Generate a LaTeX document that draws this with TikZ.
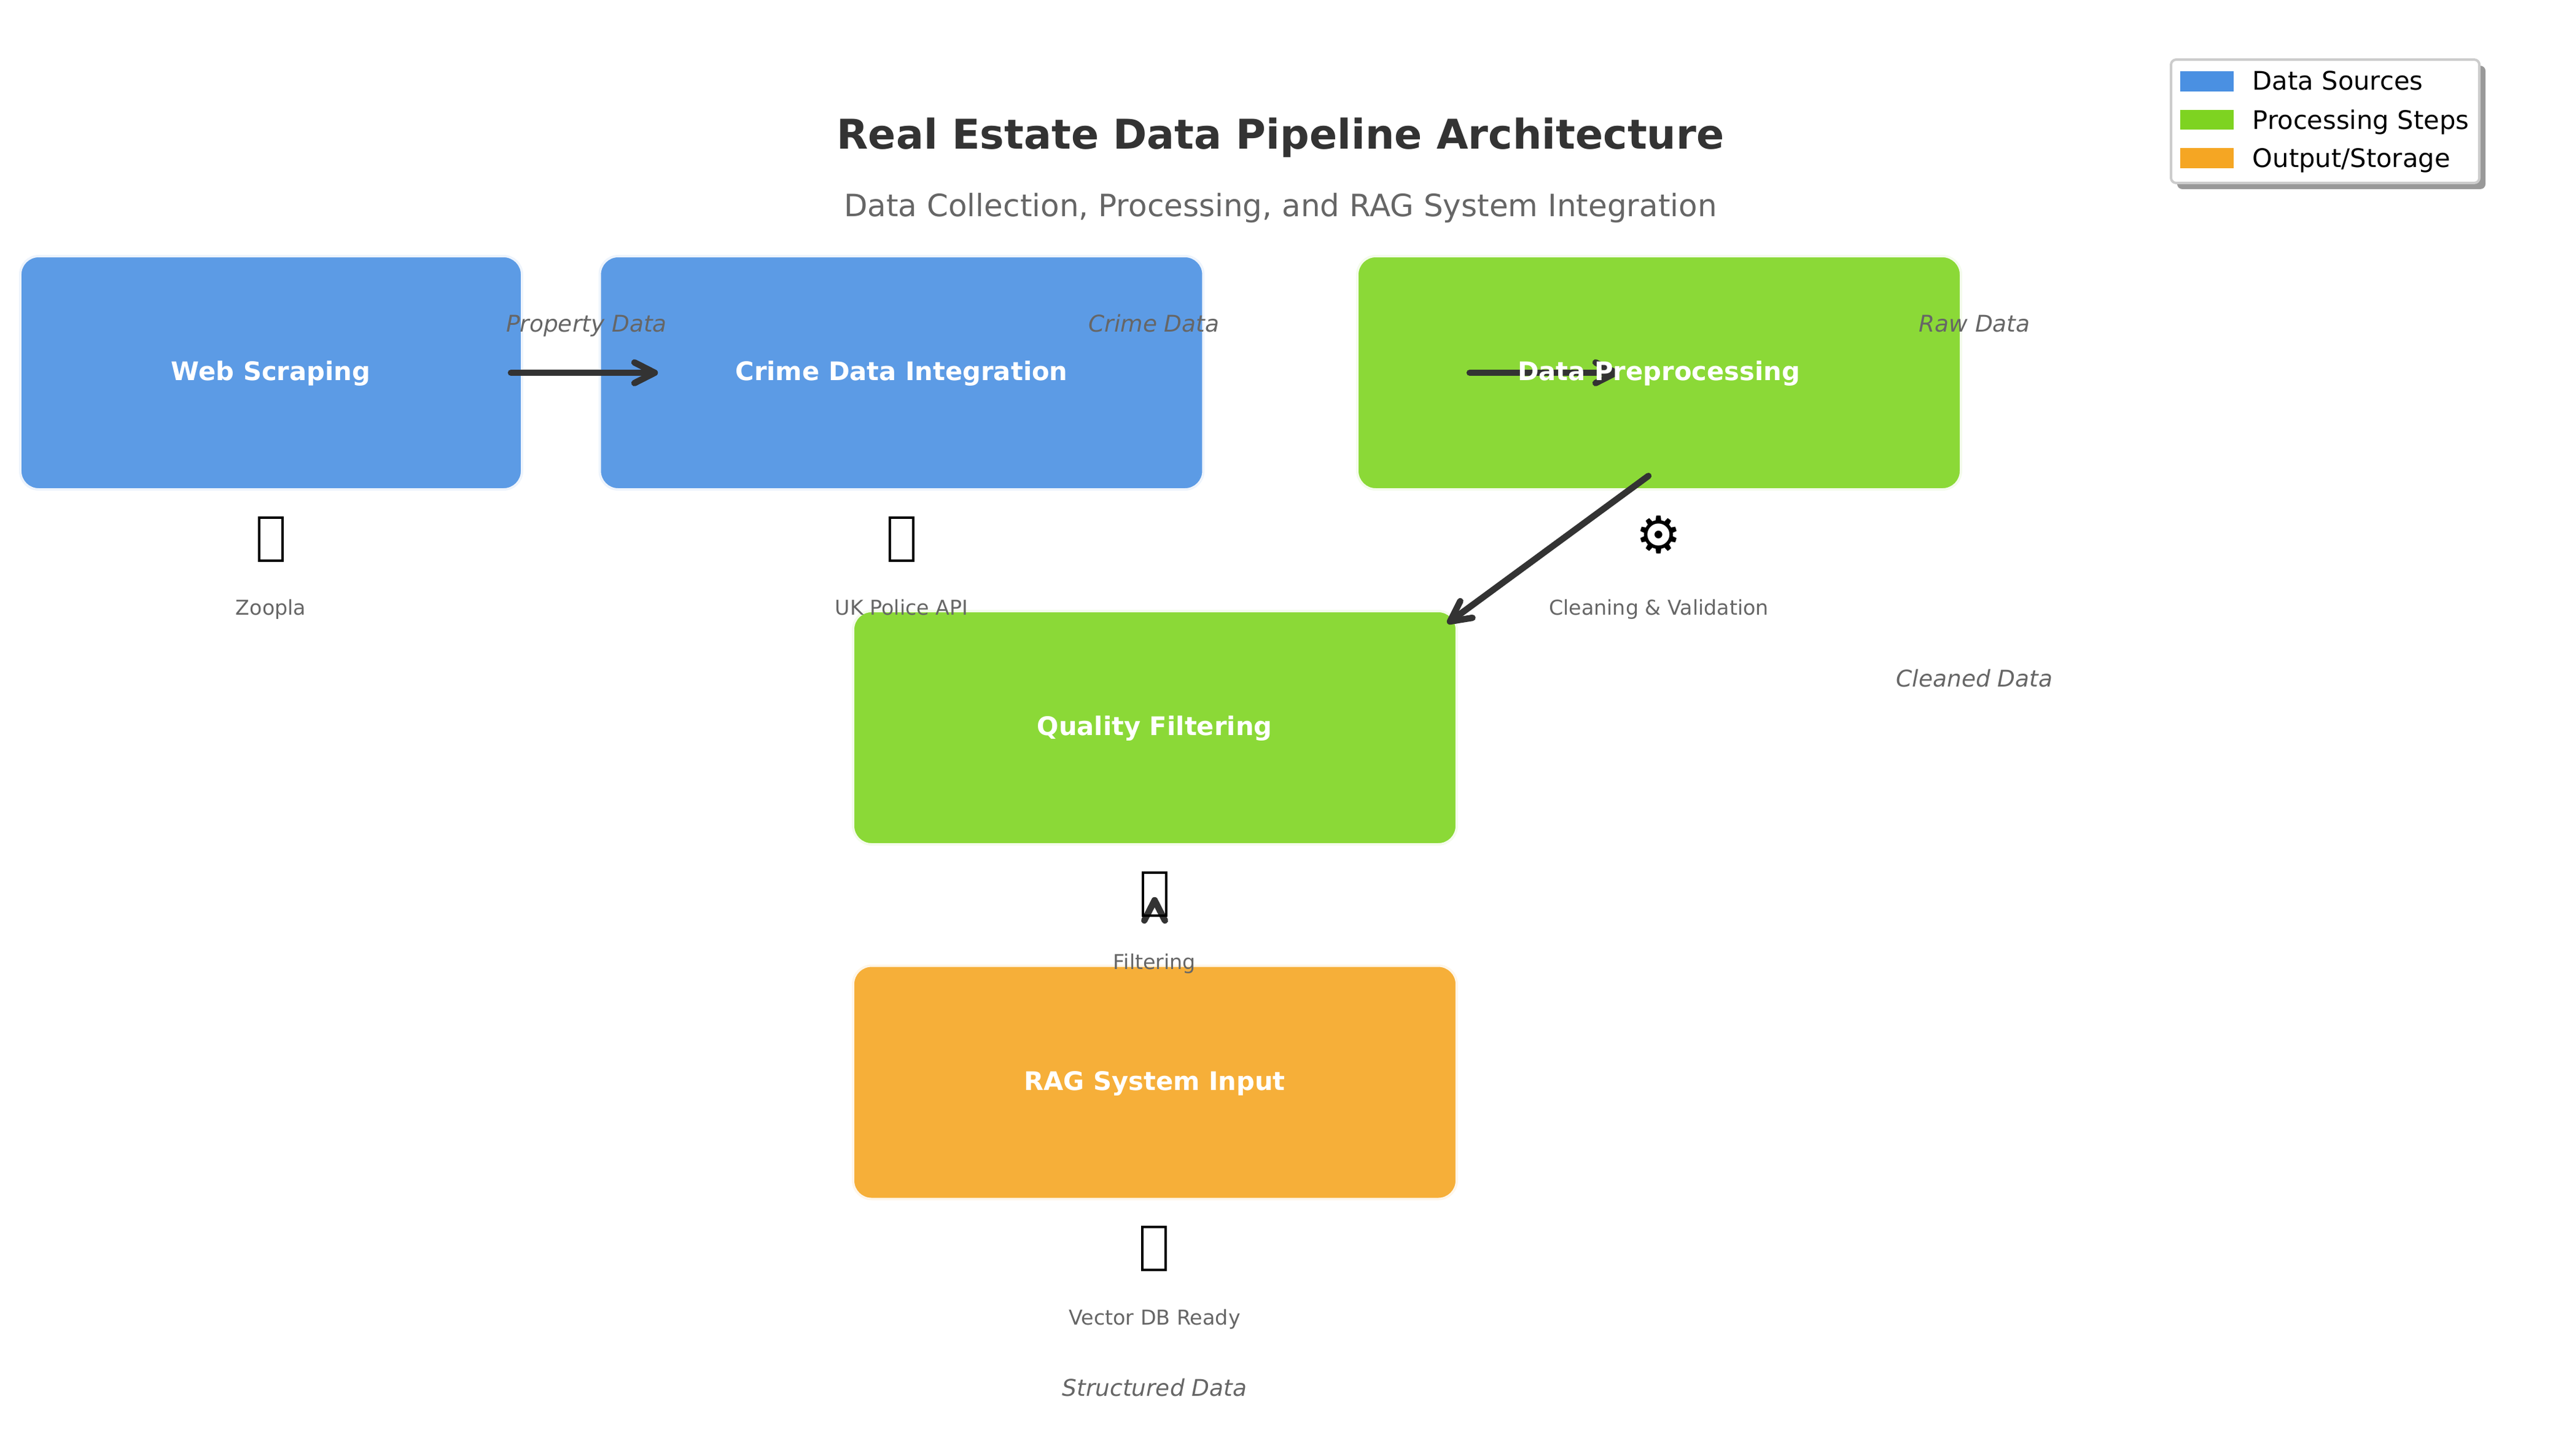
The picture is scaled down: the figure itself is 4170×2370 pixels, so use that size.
\documentclass[tikz,border=0pt]{standalone}
\usepackage{fontspec}
\setmainfont{DejaVu Sans}
\usetikzlibrary{calc,shadows}
\definecolor{bluefill}{HTML}{5C9BE5}
\definecolor{greenfill}{HTML}{8BD937}
\definecolor{orangefill}{HTML}{F6AF39}
\definecolor{bluerim}{HTML}{EEF4FC}
\definecolor{greenrim}{HTML}{F4FBEC}
\definecolor{orangerim}{HTML}{FEF6EA}
\definecolor{bluekey}{HTML}{4A90E2}
\definecolor{greenkey}{HTML}{7ED321}
\definecolor{orangekey}{HTML}{F5A623}
\definecolor{inkdark}{HTML}{333333}
\definecolor{inkgrey}{HTML}{666666}
\tikzset{
  x=0.24pt,y=-0.24pt,
  stage/.style={minimum height=91.2pt,minimum width=235.9pt,rounded corners=7.2pt,inner sep=0pt,line width=0.96pt},
  bluestage/.style={stage,fill=bluefill,draw=bluerim},
  greenstage/.style={stage,fill=greenfill,draw=greenrim},
  orangestage/.style={stage,fill=orangefill,draw=orangerim},
  stagetext/.style={anchor=base,text=white,font=\fontsize{10}{12}\bfseries,inner sep=0pt},
  flow/.style={draw=inkdark,line width=2.5pt,line cap=round,line join=round},
  tofu/.style={draw=black,line width=0.96pt,minimum width=9.1pt,minimum height=16.6pt,inner sep=0pt},
  captiontext/.style={anchor=base,font=\fontsize{8}{10}\selectfont,text=inkgrey,inner sep=0pt},
  flowlabel/.style={anchor=base,font=\fontsize{9}{11}\itshape,text=inkgrey,inner sep=0pt},
  keyswatch/.style={minimum width=20.9pt,minimum height=7.9pt,inner sep=0pt},
  keytext/.style={font=\fontsize{10}{12}\selectfont,anchor=base west,inner sep=0pt,text=black}
}
\newcommand\flowconn[2]{%
  \draw[flow] (#1) -- (#2);
  \draw[flow] ($(#2)!8.88pt!27:(#1)$) -- (#2) -- ($(#2)!8.88pt!-27:(#1)$);
}
\begin{document}
\begin{tikzpicture}
\useasboundingbox (0,0) rectangle (4170,2370);
\node[anchor=base,font=\fontsize{16}{20}\bfseries,text=inkdark,inner sep=0pt] (title) at (2085,242) {Real Estate Data Pipeline Architecture};
\node[anchor=base,font=\fontsize{12}{15}\selectfont,text=inkgrey,inner sep=0pt] (subtitle) at (2085,352) {Data Collection, Processing, and RAG System Integration};
% boxes
\node[bluestage,minimum width=196.1pt] (web) at (441.5,607) {};
\node[bluestage] (crime) at (1468,607) {};
\node[greenstage] (prep) at (2701.5,607) {};
\node[greenstage] (qual) at (1880.5,1185) {};
\node[orangestage] (rag) at (1880.5,1762.5) {};
% connectors
\coordinate (a1s) at (832,607); \coordinate (a1e) at (1066,607);
\coordinate (a2s) at (2393,607); \coordinate (a2e) at (2631,607);
\coordinate (a3s) at (2684,775); \coordinate (a3e) at (2361,1012);
\coordinate (a4s) at (1880,1470); \coordinate (a4e) at (1880,1466);
\flowconn{a1s}{a1e}
\flowconn{a2s}{a2e}
\flowconn{a3s}{a3e}
\flowconn{a4s}{a4e}
% box texts
\node[stagetext] (webtext) at (441,619) {Web Scraping};
\node[stagetext] (crimetext) at (1468,619) {Crime Data Integration};
\node[stagetext] (preptext) at (2701,619) {Data Preprocessing};
\node[stagetext] (qualtext) at (1880,1197) {Quality Filtering};
\node[stagetext] (ragtext) at (1880,1775) {RAG System Input};
% icons
\node[tofu] (iconweb) at (441,878) {};
\node[tofu] (iconcrime) at (1468,878) {};
\node[font=\fontsize{20}{24}\selectfont,inner sep=0pt] (iconprep) at (2701,871) {⚙};
\node[tofu] (iconqual) at (1880,1456) {};
\node[tofu] (iconrag) at (1879,2033) {};
% captions
\node[captiontext] (capweb) at (441,1001) {Zoopla};
\node[captiontext] (capcrime) at (1468,1001) {UK Police API};
\node[captiontext] (capprep) at (2701,1001) {Cleaning \& Validation};
\node[captiontext] (capqual) at (1880,1578) {Filtering};
\node[captiontext] (caprag) at (1880,2157) {Vector DB Ready};
% flow labels
\node[flowlabel] (lab1) at (955,540) {Property Data};
\node[flowlabel] (lab2) at (1879,540) {Crime Data};
\node[flowlabel] (lab3) at (3215,540) {Raw Data};
\node[flowlabel] (lab4) at (3215,1118) {Cleaned Data};
\node[flowlabel] (lab5) at (1880,2273) {Structured Data};
% legend
\node[draw=black!20,fill=white,line width=0.96pt,rounded corners=2pt,minimum width=120.5pt,minimum height=48.2pt,inner sep=0pt,drop shadow={shadow xshift=2.4pt,shadow yshift=-2.4pt,fill=black!40,opacity=1}] (legend) at (3786,197.5) {};
\node[keyswatch,fill=bluekey] (k1) at (3593.5,132.5) {};
\node[keyswatch,fill=greenkey] (k2) at (3593.5,195) {};
\node[keyswatch,fill=orangekey] (k3) at (3593.5,257.5) {};
\node[keytext] (t1) at (3667,146) {Data Sources};
\node[keytext] (t2) at (3667,210) {Processing Steps};
\node[keytext] (t3) at (3667,272) {Output/Storage};
\end{tikzpicture}
\end{document}
